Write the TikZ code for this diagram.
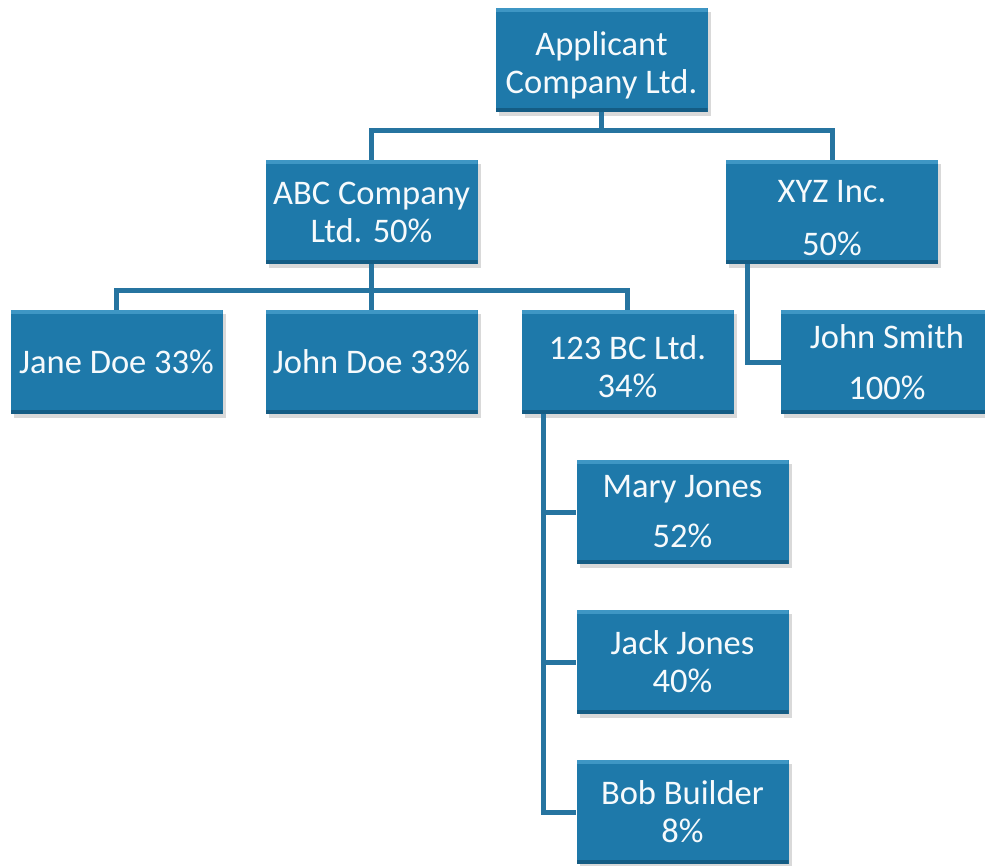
\documentclass[tikz,border=0pt]{standalone}
\usepackage{fontspec}
\setmainfont{Carlito}
\usetikzlibrary{shadows}
\definecolor{BoxBlue}{RGB}{30, 121, 170}
\definecolor{BoxLight}{RGB}{62, 150, 196}
\definecolor{BoxDark}{RGB}{20, 92, 132}
\definecolor{LinkBlue}{RGB}{38, 116, 160}
\newcommand{\lw}{5pt}
\newcommand{\lift}{\rule{0pt}{34pt}}

\begin{document}
\begin{tikzpicture}[x=1pt, y=-1pt,
  every node/.append style={font=\fontsize{34.5}{38}\selectfont},
  orgbox/.style={rectangle, fill=BoxBlue, text=white!96!BoxBlue, align=center,
    minimum width=212pt, minimum height=104pt, inner sep=0pt,
    drop shadow={shadow xshift=3pt, shadow yshift=-4pt, opacity=0.3},
    path picture={
      \fill[BoxLight] (path picture bounding box.north west) rectangle
        ([yshift=-4pt]path picture bounding box.north east);
      \fill[BoxDark] (path picture bounding box.south west) rectangle
        ([yshift=4pt]path picture bounding box.south east);
    }},
  link/.style={draw=LinkBlue, line width=\lw}]
  \useasboundingbox (0,0) rectangle (985,865);

  % owners, top down
  \node[orgbox] (applicant) at (601.5, 60)  {\lift Applicant\\Company Ltd.};
  \node[orgbox] (abc)       at (371.5, 212) {ABC Company\\Ltd. 50\%};
  \node[orgbox] (xyz)       at (832, 212)   {\lift XYZ Inc.\\[15pt]50\%};
  \node[orgbox] (jane)      at (116.5, 362) {Jane Doe 33\%};
  \node[orgbox] (johndoe)   at (371.5, 362) {John Doe 33\%};
  \node[orgbox] (bc)        at (627.5, 362) {\lift 123 BC Ltd.\\34\%};
  \node[orgbox] (smith)     at (887, 362)   {John Smith\\[13pt]100\%};
  \node[orgbox] (mary)      at (682.5, 512) {Mary Jones\\[12pt]52\%};
  \node[orgbox] (jack)      at (682.5, 662) {Jack Jones\\40\%};
  \node[orgbox] (bob)       at (682.5, 812) {Bob Builder\\8\%};

  \draw[link] (applicant.south) -- ++(0,18) -| (abc.north);
  \draw[link] (applicant.south) -- ++(0,18) -| (xyz.north);
  \draw[link] (abc.south) -- ++(0,26) -| (jane.north);
  \draw[link] (abc.south) -- (johndoe.north);
  \draw[link] (abc.south) -- ++(0,26) -| (bc.north);
  \draw[link] ([xshift=22pt]xyz.south west) |- (smith.west);
  \foreach \kid in {mary, jack, bob}
    \draw[link] ([xshift=22pt]bc.south west) |- (\kid.west);
\end{tikzpicture}
\end{document}
